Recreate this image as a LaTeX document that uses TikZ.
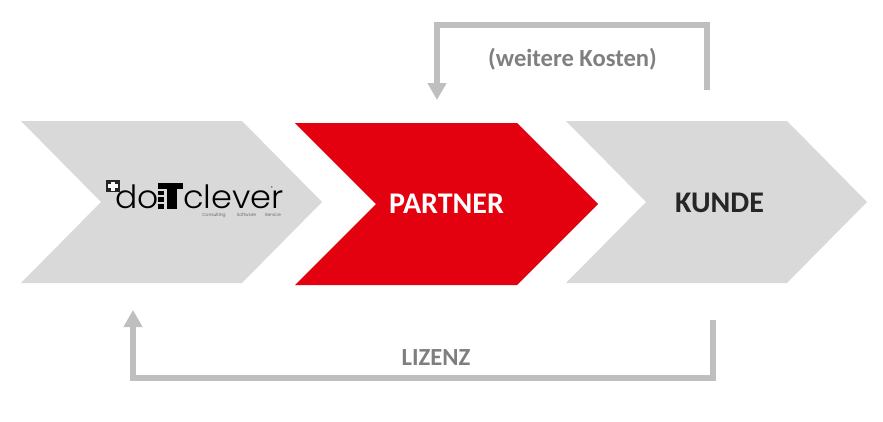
\documentclass[tikz,border=0pt]{standalone}
\usepackage{fontspec}
\setmainfont{Carlito}
\newfontfamily\logofont{Poppins Light}
\usetikzlibrary{arrows.meta}
\definecolor{chevgrey}{HTML}{D9D9D9}
\definecolor{chevred}{HTML}{E3000F}
\definecolor{linkgrey}{HTML}{BFBFBF}
\definecolor{labelgrey}{HTML}{7F7F7F}
\definecolor{darktext}{HTML}{262626}
\tikzset{
  chevgreyfill/.style={fill=chevgrey,draw=none},
  chevredfill/.style={fill=chevred,draw=none},
  link/.style={draw=linkgrey,line width=5.6pt,line join=miter,
    -{Triangle[length=17pt,width=18pt]}},
  biglabel/.style={font=\bfseries\fontsize{30}{32}\selectfont,inner sep=0pt},
  smalllabel/.style={font=\bfseries\fontsize{24.6}{27}\selectfont,text=labelgrey,inner sep=0pt},
  logotext/.style={font=\logofont\fontsize{32}{34}\selectfont,text=black,inner sep=0pt,anchor=base west},
  logosmall/.style={font=\logofont\fontsize{4.4}{5}\selectfont,text=black!70,inner sep=0pt}
}
\begin{document}
\begin{tikzpicture}[x=1pt,y=-1pt]
\useasboundingbox (0,0) rectangle (883,421);
% chevrons
\fill[chevgreyfill] (21,121)--(242,121)--(322,202)--(242,283)--(21,283)--(101,202)--cycle;
\fill[chevredfill] (295,123)--(517,123)--(598,204)--(517,285)--(295,285)--(376,204)--cycle;
\fill[chevgreyfill] (566,121)--(787,121)--(867,202)--(787,283)--(566,283)--(646,202)--cycle;
% labels
\node[biglabel,text=white] (partner) at (446.5,204) {PARTNER};
\node[biglabel,text=darktext] (kunde) at (719.5,203) {KUNDE};
\node[smalllabel] (kosten) at (572.5,59) {(weitere Kosten)};
\node[smalllabel] (lizenz) at (436,358) {LIZENZ};
% connectors
\coordinate (a1) at (707,90);
\coordinate (a2) at (437,100);
\coordinate (b1) at (713,320);
\coordinate (b2) at (133,310);
\draw[link] (a1) -- (707,25) -- (437,25) -- (a2);
\draw[link] (b1) -- (713,378) -- (133,378) -- (b2);
% logo
\fill[black!85] (106,180) rectangle (120,192);
\fill[white] (111,181.5) rectangle (115,190.5);
\fill[white] (108,184) rectangle (118,188);
\node[logotext,xscale=1.03] (logodo) at (115,208) {do};
\fill[black] (158,190.5) rectangle (164,195);
\fill[black] (158,197) rectangle (164,201.5);
\fill[black] (158,203.5) rectangle (164,209);
\fill[black] (158,183) rectangle (183,189);
\fill[black] (167,189) rectangle (177,209);
\node[logotext,xscale=1.05] (logoclever) at (183,208) {clever};
\node[logosmall] (cons) at (214,215) {Consulting};
\node[logosmall] (soft) at (246.5,215) {Software};
\node[logosmall] (serv) at (273,215) {Service};
\node[font=\logofont\fontsize{4}{5}\selectfont,inner sep=0pt] (reg) at (272,188) {®};
\end{tikzpicture}
\end{document}
